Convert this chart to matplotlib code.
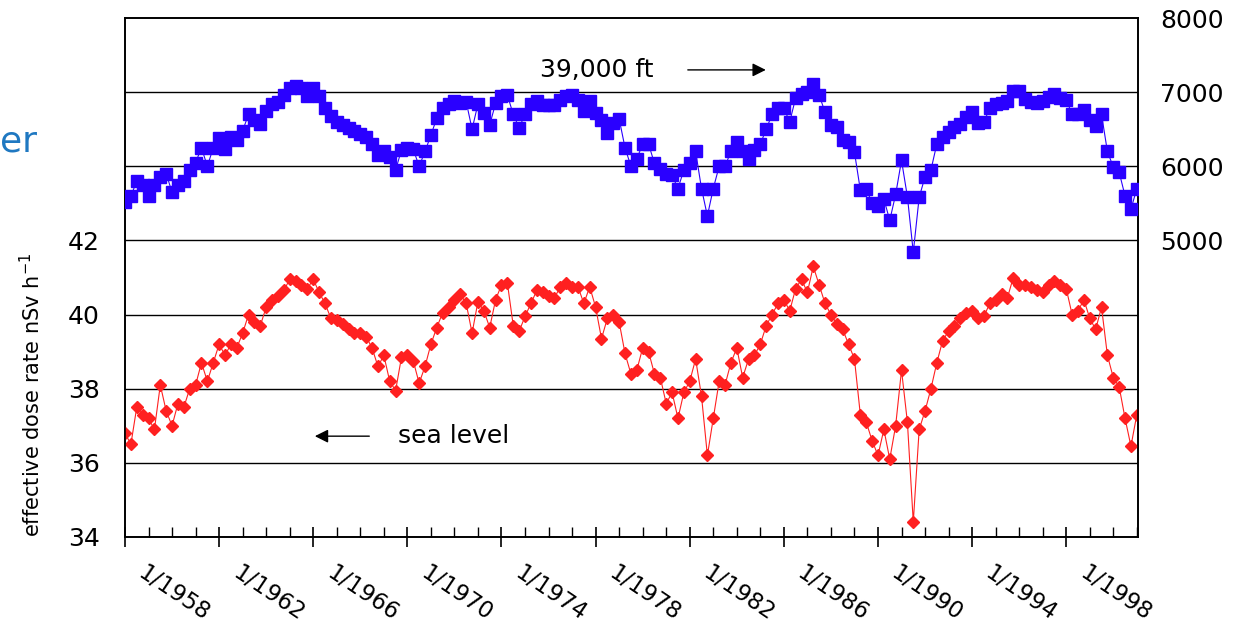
import numpy as np
import matplotlib
matplotlib.use("Agg")
import matplotlib.pyplot as plt
from matplotlib.ticker import MultipleLocator, FixedLocator
from matplotlib.transforms import ScaledTranslation

# quarterly samples, decimal years
years = np.arange(1958.0, 2001.01, 0.25)

# sea level dose rate, nSv/h (left axis)
sea_level = [
    36.8, 36.5, 37.5, 37.3,   # 1958
    37.2, 36.9, 38.1, 37.4,   # 1959
    37.0, 37.6, 37.5, 38.0,   # 1960
    38.1, 38.7, 38.2, 38.7,   # 1961
    39.2, 38.9, 39.2, 39.1,   # 1962
    39.5, 40.0, 39.8, 39.7,   # 1963
    40.2, 40.4, 40.5, 40.65,  # 1964
    40.95, 40.9, 40.8, 40.7,  # 1965
    40.95, 40.6, 40.3, 39.9,  # 1966
    39.85, 39.75, 39.6, 39.5, # 1967
    39.5, 39.4, 39.1, 38.6,   # 1968
    38.9, 38.2, 37.95, 38.85, # 1969
    38.9, 38.75, 38.15, 38.6, # 1970
    39.2, 39.65, 40.05, 40.2, # 1971
    40.4, 40.55, 40.3, 39.5,  # 1972
    40.35, 40.1, 39.65, 40.4, # 1973
    40.8, 40.85, 39.7, 39.55, # 1974
    39.95, 40.3, 40.65, 40.6, # 1975
    40.5, 40.45, 40.75, 40.85,# 1976
    40.75, 40.75, 40.3, 40.75,# 1977
    40.2, 39.35, 39.9, 40.0,  # 1978
    39.8, 38.95, 38.4, 38.5,  # 1979
    39.1, 39.0, 38.4, 38.3,   # 1980
    37.6, 37.9, 37.2, 37.9,   # 1981
    38.2, 38.8, 37.8, 36.2,   # 1982
    37.2, 38.2, 38.1, 38.7,   # 1983
    39.1, 38.3, 38.8, 38.9,   # 1984
    39.2, 39.7, 40.0, 40.3,   # 1985
    40.4, 40.1, 40.7, 40.95,  # 1986
    40.6, 41.3, 40.8, 40.3,   # 1987
    40.0, 39.75, 39.6, 39.2,  # 1988
    38.8, 37.3, 37.1, 36.6,   # 1989
    36.2, 36.9, 36.1, 37.0,   # 1990
    38.5, 37.1, 34.4, 36.9,   # 1991
    37.4, 38.0, 38.7, 39.3,   # 1992
    39.55, 39.7, 39.9, 40.05, # 1993
    40.1, 39.9, 39.95, 40.3,  # 1994
    40.4, 40.55, 40.45, 41.0, # 1995
    40.8, 40.8, 40.75, 40.66, # 1996
    40.6, 40.8, 40.9, 40.8,   # 1997
    40.7, 40.0, 40.1, 40.4,   # 1998
    39.9, 39.6, 40.2, 38.9,   # 1999
    38.3, 38.05, 37.2, 36.45, # 2000
    37.3,                     # 2001
]

# 39,000 ft dose rate, nSv/h (right axis)
flight_level = [
    5520, 5600, 5800, 5750,  # 1958
    5600, 5750, 5850, 5900,  # 1959
    5650, 5750, 5800, 5950,  # 1960
    6050, 6250, 6000, 6250,  # 1961
    6380, 6230, 6390, 6350,  # 1962
    6480, 6700, 6620, 6570,  # 1963
    6750, 6840, 6870, 6960,  # 1964
    7060, 7080, 7060, 6950,  # 1965
    7060, 6950, 6790, 6680,  # 1966
    6600, 6560, 6510, 6480,  # 1967
    6440, 6390, 6300, 6150,  # 1968
    6200, 6125, 5950, 6220,  # 1969
    6250, 6230, 6000, 6200,  # 1970
    6420, 6650, 6780, 6840,  # 1971
    6880, 6860, 6870, 6500,  # 1972
    6840, 6720, 6560, 6850,  # 1973
    6950, 6960, 6700, 6520,  # 1974
    6700, 6840, 6880, 6820,  # 1975
    6820, 6830, 6890, 6950,  # 1976
    6960, 6890, 6750, 6880,  # 1977
    6720, 6620, 6450, 6580,  # 1978
    6640, 6250, 6000, 6100,  # 1979
    6300, 6300, 6040, 5970,  # 1980
    5900, 5880, 5700, 5950,  # 1981
    6050, 6200, 5700, 5330,  # 1982
    5700, 6000, 6000, 6200,  # 1983
    6330, 6200, 6100, 6220,  # 1984
    6300, 6500, 6700, 6780,  # 1985
    6780, 6600, 6920, 6980,  # 1986
    7000, 7110, 6960, 6730,  # 1987
    6560, 6530, 6360, 6330,  # 1988
    6190, 5680, 5700, 5500,  # 1989
    5470, 5560, 5270, 5620,  # 1990
    6080, 5590, 4840, 5580,  # 1991
    5860, 5950, 6300, 6390,  # 1992
    6460, 6530, 6570, 6660,  # 1993
    6730, 6580, 6600, 6780,  # 1994
    6840, 6850, 6880, 7020,  # 1995
    7020, 6910, 6870, 6860,  # 1996
    6880, 6940, 6980, 6920,  # 1997
    6900, 6700, 6700, 6760,  # 1998
    6620, 6550, 6700, 6200,  # 1999
    5990, 5920, 5600, 5420,  # 2000
    5700,                    # 2001
]

major_years = list(range(1958, 1999, 4))
tick_labels = [f"1/{y}" for y in major_years]
left_ticks = [34, 36, 38, 40, 42, 44, 46]
left_labels = ["34", "36", "38", "40", "42", "", ""]
right_ticks = [5000, 6000, 7000, 8000]

plt.rcParams["font.family"] = "DejaVu Sans"

fig = plt.figure(figsize=(12.35, 6.31), dpi=100)
ax = fig.add_axes([125 / 1235, 1 - 537 / 631, 1013 / 1235, 519 / 631])
ax2 = ax.twinx()

red = "#ff2020"
blue = "#2a00ff"

ax.plot(years, sea_level, color=red, lw=0.8, marker="D", ms=6,
        mec=red, mfc=red, zorder=3)
ax2.plot(years, flight_level, color=blue, lw=0.8, marker="s", ms=8,
         mec=blue, mfc=blue, zorder=3)

ax.set_xlim(1958, 2001.05)
ax.set_ylim(34, 48)
ax2.set_ylim(1000, 8000)

# horizontal grid lines
ax.set_yticks(left_ticks)
ax.set_yticklabels(left_labels)
ax.grid(axis="y", color="black", lw=1.0)
ax.set_axisbelow(True)

ax2.set_yticks(right_ticks)
ax2.set_yticklabels([str(v) for v in right_ticks])

ax.tick_params(axis="y", length=0, labelsize=18, pad=18)
ax2.tick_params(axis="y", length=0, labelsize=18, pad=16)

ax.xaxis.set_major_locator(FixedLocator(major_years))
ax.xaxis.set_minor_locator(MultipleLocator(1))
ax.set_xticklabels(tick_labels)
ax.tick_params(axis="x", which="major", direction="inout", length=15,
               width=1.2, labelsize=16.5, pad=10)
ax.tick_params(axis="x", which="minor", direction="in", length=7, width=1.0)

shift = ScaledTranslation(22 / 100, 0, fig.dpi_scale_trans)
for lbl in ax.get_xticklabels():
    lbl.set_rotation(-34)
    lbl.set_ha("left")
    lbl.set_va("top")
    lbl.set_rotation_mode("anchor")
    lbl.set_transform(lbl.get_transform() + shift)

for a in (ax, ax2):
    for s in a.spines.values():
        s.set_color("black")
        s.set_linewidth(1.2)

# annotations
ax.text(1978.05, 46.6, "39,000 ft", fontsize=18, ha="center", va="center")
ax.annotate("", xy=(1985.35, 46.6), xytext=(1981.8, 46.6),
            arrowprops=dict(arrowstyle="-|>", color="black", lw=1.0,
                            mutation_scale=20))
ax.text(1969.6, 36.72, "sea level", fontsize=18, ha="left", va="center")
ax.annotate("", xy=(1965.95, 36.72), xytext=(1968.5, 36.72),
            arrowprops=dict(arrowstyle="-|>", color="black", lw=1.0,
                            mutation_scale=20))

fig.text(32 / 1235, 1 - 395 / 631, "effective dose rate nSv h$^{-1}$",
         rotation=90, ha="center", va="center", fontsize=15)

fig.text(0.0, 1 - 152 / 631, "er", fontsize=26, color="#1f78c1",
         ha="left", va="baseline")

fig.savefig("out.png", dpi=100)
